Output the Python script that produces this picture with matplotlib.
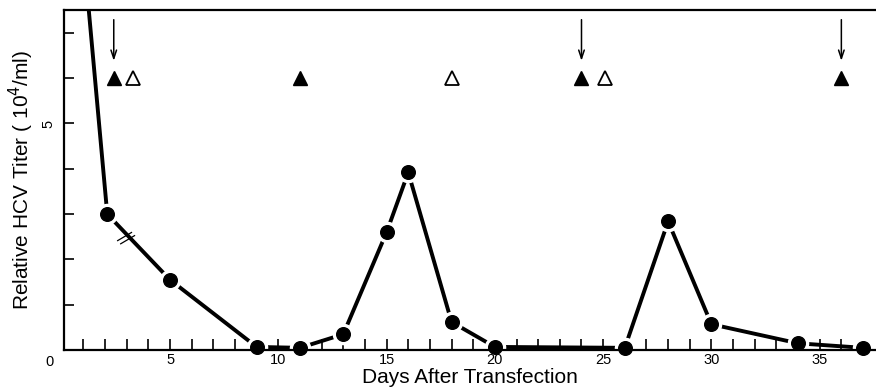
import numpy as np
import matplotlib
matplotlib.use("Agg")
import matplotlib.pyplot as plt

plt.rcParams['font.family'] = ['Liberation Sans', 'DejaVu Sans']

# titer curve (first point is off the top of the chart)
days = [1.0, 2.1, 5, 9, 11, 13, 15, 16, 18, 20, 26, 28, 30, 34, 37]
titer = [8.8, 3.0, 1.55, 0.07, 0.05, 0.35, 2.6, 3.92, 0.62, 0.07, 0.05, 2.84, 0.57, 0.15, 0.05]

# treatment markers
filled_tri = [2.4, 11, 24, 36]
open_tri = [3.3, 18, 25.1]
arrow_days = [2.4, 24, 36]
tri_level = 6.0

fig = plt.figure(figsize=(8.76, 3.89), dpi=100)
ax = fig.add_axes([0.073, 0.1, 0.927, 0.874])

ax.plot(days, titer, color='black', lw=2.8, zorder=2)
# white halo round the dots gives the gaps in the line
ax.plot(days, titer, 'o', ms=14.5, color='white', mec='white', zorder=2.1)
ax.plot(days, titer, 'o', ms=9.8, color='black', zorder=3, clip_on=False)

ax.plot(filled_tri, [tri_level] * len(filled_tri), '^', ms=10, color='black', zorder=3)
ax.plot(open_tri, [tri_level] * len(open_tri), '^', ms=10, mfc='white', mec='black', mew=1.3, zorder=3)

for d in arrow_days:
    ax.annotate('', xy=(d, 6.32), xytext=(d, 7.35),
                arrowprops=dict(arrowstyle='->,head_length=0.6,head_width=0.2', color='black', lw=1.1))

# break mark on the first segment
for dx, dy in ((-0.07, 0.035), (0.07, -0.035)):
    cx, cy = 2.97 + dx, 2.47 + dy
    ax.plot([cx - 0.32, cx + 0.32], [cy - 0.09, cy + 0.09], color='black', lw=0.9, zorder=4)

ax.set_xlim(0.1, 37.6)
ax.set_ylim(0, 7.5)
ax.spines['right'].set_visible(False)
for s in ('left', 'bottom', 'top'):
    ax.spines[s].set_linewidth(1.6)

ax.set_xticks([5, 10, 15, 20, 25, 30, 35])
ax.set_xticks(np.arange(1, 38), minor=True)
ax.set_yticks([5])
ax.set_yticks([1, 2, 3, 4, 6, 7], minor=True)
ax.tick_params(axis='x', which='both', direction='in', length=8, width=1.2, pad=2, labelsize=10.5)
ax.tick_params(axis='y', which='both', direction='in', length=7, width=1.2, pad=6, labelsize=10.5)
for t in ax.get_yticklabels():
    t.set_rotation(90)
    t.set_va('center')
ax.text(-0.013, -0.035, '0', transform=ax.transAxes, ha='right', va='center', fontsize=10.5)

ax.set_xlabel('Days After Transfection', fontsize=15, labelpad=1)
ax.set_ylabel('Relative HCV Titer ( 10$^4$/ml)', fontsize=15, labelpad=4)

fig.savefig('out.png', dpi=100)
